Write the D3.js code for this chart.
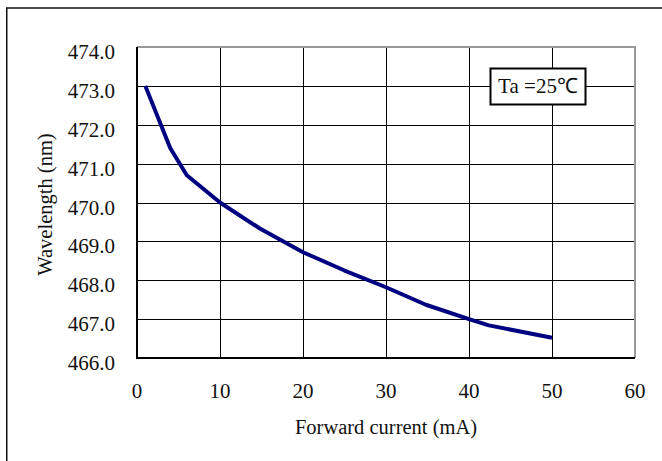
<!DOCTYPE html>
<html>
<head>
<meta charset="utf-8">
<script src="https://cdn.jsdelivr.net/npm/d3@7"></script>
<style>
  body { margin: 0; background: #fff; }
  svg { display: block; }
  text { font-family: "Liberation Serif", "Times New Roman", serif; fill: #111; }
  .grid line { stroke: #000; stroke-width: 1; shape-rendering: crispEdges; }
  .tick-label { font-size: 21px; }
  .axis-title { font-size: 20.5px; }
  .curve { fill: none; stroke: #000080; stroke-width: 4; stroke-linejoin: round; }
</style>
</head>
<body>
<svg id="chart"></svg>
<script>
// forward current (mA) vs dominant wavelength (nm)
const current = [1, 4, 6, 10, 14.8, 20, 25, 30, 34.8, 40, 42.4, 50]
const wavelength = [473.0, 471.4, 470.7, 470.0, 469.33, 468.72, 468.25, 467.82, 467.37, 467.0, 466.84, 466.52]

const xTicks = [0, 10, 20, 30, 40, 50, 60]
const yTicks = [466, 467, 468, 469, 470, 471, 472, 473, 474]

const width = 662
const height = 461
const margin = { top: 47, right: 27, bottom: 103, left: 137 }

const svg = d3.select('#chart')
    .attr('width', width)
    .attr('height', height)

// outer frame (runs off the right and bottom edge)
svg.append('rect')
    .attr('x', 6.75)
    .attr('y', 8)
    .attr('width', 700)
    .attr('height', 500)
    .attr('fill', 'none')
    .attr('stroke', '#111')
    .attr('stroke-width', 1.5)

const xScale = d3.scaleLinear()
    .domain([0, 60])
    .range([margin.left, width - margin.right])

const yScale = d3.scaleLinear()
    .domain([466, 474])
    .range([height - margin.bottom, margin.top])

const grid = svg.append('g').attr('class', 'grid')

grid.selectAll('.gx')
    .data(xTicks.filter(d => d > 0 && d < 60))
    .enter()
    .append('line')
    .attr('x1', d => Math.round(xScale(d)) + 0.5)
    .attr('x2', d => Math.round(xScale(d)) + 0.5)
    .attr('y1', yScale(474))
    .attr('y2', yScale(466))

grid.selectAll('.gy')
    .data(yTicks.filter(d => d > 466 && d < 474))
    .enter()
    .append('line')
    .attr('x1', xScale(0))
    .attr('x2', xScale(60))
    .attr('y1', d => Math.round(yScale(d)) + 0.5)
    .attr('y2', d => Math.round(yScale(d)) + 0.5)

// grey top and right edges of the plot area
svg.append('path')
    .attr('d', `M${xScale(0)},${yScale(474)}H${xScale(60)}V${yScale(466)}`)
    .attr('fill', 'none')
    .attr('stroke', '#999')
    .attr('stroke-width', 2)

// black left and bottom axes
svg.append('path')
    .attr('d', `M${xScale(0)},${yScale(474)}V${yScale(466)}H${xScale(60)}`)
    .attr('fill', 'none')
    .attr('stroke', '#000')
    .attr('stroke-width', 2)

const line = d3.line()
    .x((d, i) => xScale(current[i]))
    .y(d => yScale(d))

svg.append('path')
    .attr('class', 'curve')
    .attr('d', line(wavelength))

// tick labels
svg.selectAll('.ylab')
    .data(yTicks)
    .enter()
    .append('text')
    .attr('class', 'tick-label')
    .attr('x', 115)
    .attr('y', d => yScale(d) + 12)
    .attr('text-anchor', 'end')
    .text(d => d.toFixed(1))

svg.selectAll('.xlab')
    .data(xTicks)
    .enter()
    .append('text')
    .attr('class', 'tick-label')
    .attr('x', d => xScale(d))
    .attr('y', 398)
    .attr('text-anchor', 'middle')
    .text(d => d)

svg.append('text')
    .attr('class', 'axis-title')
    .attr('x', (xScale(0) + xScale(60)) / 2)
    .attr('y', 434)
    .attr('text-anchor', 'middle')
    .text('Forward current (mA)')

svg.append('text')
    .attr('class', 'axis-title')
    .attr('transform', `translate(52,${(yScale(466) + yScale(474)) / 2 + 2}) rotate(-90)`)
    .attr('text-anchor', 'middle')
    .text('Wavelength (nm)')

// temperature note
svg.append('rect')
    .attr('x', 490.5)
    .attr('y', 68.5)
    .attr('width', 95)
    .attr('height', 36)
    .attr('fill', '#fff')
    .attr('stroke', '#000')
    .attr('stroke-width', 2)

svg.append('text')
    .attr('class', 'tick-label')
    .attr('x', 538)
    .attr('y', 93)
    .attr('text-anchor', 'middle')
    .text('Ta =25℃')
</script>
</body>
</html>
